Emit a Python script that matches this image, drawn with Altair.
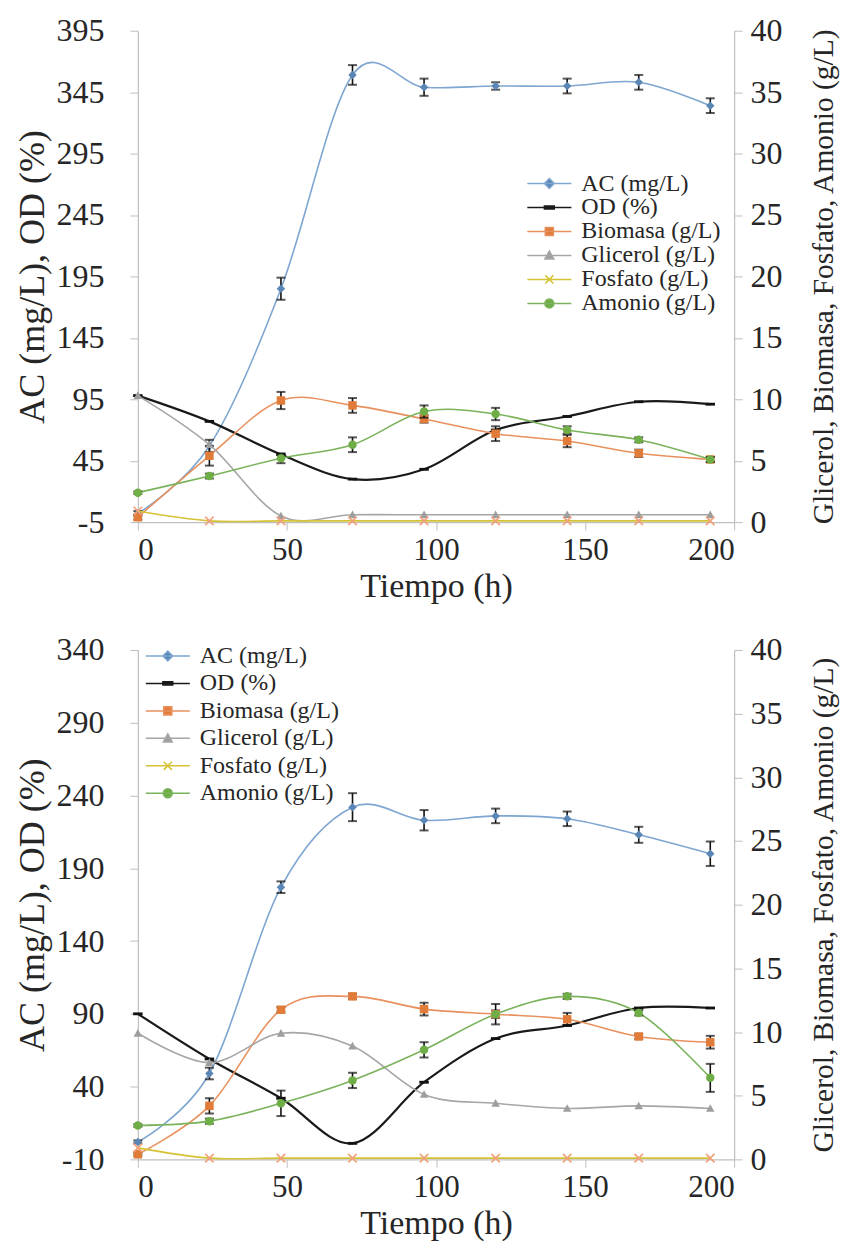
import altair as alt
import pandas as pd

# ---------------- data ----------------
T = [0, 24, 48, 72, 96, 120, 144, 168, 192]
SERIES = ["AC (mg/L)", "OD (%)", "Biomasa (g/L)", "Glicerol (g/L)", "Fosfato (g/L)", "Amonio (g/L)"]

# panel A (top)
AC_A = [2, 57, 185, 359, 349, 350, 350, 353, 334]
AC_A_ERR = [2, 5, 9, 8, 7, 3, 6, 6, 6]
OD_A = [98, 77, 50, 30, 38, 70, 81, 93, 91]
BIO_A = [0.4, 5.4, 9.9, 9.5, 8.4, 7.2, 6.6, 5.6, 5.1]
BIO_A_ERR = [0.2, 0.8, 0.7, 0.6, 0.3, 0.6, 0.5, 0.3, 0.2]
GLI_A = [10.3, 6.3, 0.5, 0.6, 0.6, 0.6, 0.6, 0.6, 0.6]
FOS_A = [0.9, 0.1, 0.1, 0.1, 0.1, 0.1, 0.1, 0.1, 0.1]
AMO_A = [2.4, 3.75, 5.2, 6.3, 9.0, 8.8, 7.5, 6.7, 5.1]
AMO_A_ERR = [0.1, 0.2, 0.4, 0.6, 0.5, 0.5, 0.3, 0.2, 0.2]

# panel B (bottom)
AC_B = [2, 49, 177, 232, 223, 226, 224, 213, 200]
AC_B_ERR = [1, 4, 4, 9.6, 7, 5, 5, 5.5, 8.4]
OD_B = [90, 59, 32, 1, 43, 73, 82, 94, 94]
BIO_B = [0.4, 4.2, 11.75, 12.8, 11.8, 11.4, 11.0, 9.65, 9.2]
BIO_B_ERR = [0.1, 0.6, 0.2, 0.2, 0.5, 0.3, 0.5, 0.2, 0.5]
GLI_B = [9.9, 7.6, 9.9, 8.9, 5.1, 4.4, 4.0, 4.2, 4.0]
FOS_B = [0.9, 0.1, 0.1, 0.1, 0.1, 0.1, 0.1, 0.1, 0.1]
AMO_B = [2.66, 3.0, 4.4, 6.2, 8.6, 11.4, 12.8, 11.5, 6.4]
AMO_B_ERR = [0.1, 0.2, 1.0, 0.6, 0.6, 0.8, 0.2, 0.2, 1.1]

X_TICKS = [0, 50, 100, 150, 200]
LEFT_A_TICKS = [-5, 45, 95, 145, 195, 245, 295, 345, 395]
LEFT_B_TICKS = [-10, 40, 90, 140, 190, 240, 290, 340]
RIGHT_TICKS = [0, 5, 10, 15, 20, 25, 30, 35, 40]

# ---------------- styles ----------------
FONT = "Liberation Serif, Times New Roman, serif"
LINE_COLORS = ["#7EA6D0", "#1A1A1A", "#E8915E", "#A6A6A6", "#D6C234", "#7BB35C"]
MARK_COLORS = ["#5A86B6", "#111111", "#E07B39", "#9E9E9E", "#F2A07A", "#6FAE47"]
DATA_SHAPES = [
    "diamond",
    "M-1,-0.3H1V0.3H-1Z",
    "square",
    "M0,-1L1,0.8H-1Z",
    "M-1,-1L1,1M-1,1L1,-1",
    "circle",
]
LEGEND_SHAPES = [
    "M-4.9,0H4.9M0,-1.1L1.1,0L0,1.1L-1.1,0Z",
    "M-4.9,0H4.9M-1.1,-0.35H1.1V0.35H-1.1Z",
    "M-4.9,0H4.9M-0.9,-0.9H0.9V0.9H-0.9Z",
    "M-4.9,0H4.9M0,-1L1,0.8H-1Z",
    "M-4.9,0H4.9M-0.9,-0.9L0.9,0.9M-0.9,0.9L0.9,-0.9",
    "M-4.9,0H4.9M1,0A1,1,0,1,1,-1,0A1,1,0,1,1,1,0Z",
]
AXIS_GRAY = "#BFBFBF"
TEXT = "#262626"


def xenc():
    return alt.X(
        "t:Q",
        scale=alt.Scale(domain=[0, 200], nice=False, zero=False),
        axis=alt.Axis(values=X_TICKS, title="Tiempo (h)", labelFontSize=31, labelFont=FONT,
                      titleFont=FONT, titleFontSize=34, tickSize=8, labelPadding=5,
                      titlePadding=4),
    )


def yenc(field, side, domain, ticks, title, tsize):
    ax = dict(values=ticks, orient=side, title=title, labelFontSize=32, labelFont=FONT,
              titleFont=FONT, titleFontSize=tsize, tickSize=8, labelExpr="datum.value")
    if side == "right":
        ax.update(titleAngle=270, titleBaseline="top", labelPadding=8, titlePadding=27)
    else:
        ax.update(labelPadding=26, titlePadding=4)
    return alt.Y(f"{field}:Q", scale=alt.Scale(domain=domain, nice=False, zero=False),
                 axis=alt.Axis(**ax))


def series_layers(vals, errs, idx, ymake):
    df = pd.DataFrame({"t": T, "v": vals})
    layers = [
        alt.Chart(df).mark_line(interpolate="cardinal", color=LINE_COLORS[idx],
                                strokeWidth=2.2 if idx == 1 else 1.6)
        .encode(x=xenc(), y=ymake("v"))
    ]
    if errs is not None:
        edf = pd.DataFrame({"t": T, "lo": [v - e for v, e in zip(vals, errs)],
                            "hi": [v + e for v, e in zip(vals, errs)]})
        layers.append(alt.Chart(edf).mark_rule(color="#111111", strokeWidth=1.6)
                      .encode(x=xenc(), y=ymake("lo"), y2="hi:Q"))
        for f in ["lo", "hi"]:
            layers.append(alt.Chart(edf).mark_tick(orient="horizontal", size=9, thickness=2,
                                                   color="#111111")
                          .encode(x=xenc(), y=ymake(f)))
    filled = idx != 4
    layers.append(
        alt.Chart(df).mark_point(shape=DATA_SHAPES[idx], size=72 if idx != 1 else 90,
                                 filled=filled, color=MARK_COLORS[idx], opacity=1,
                                 strokeWidth=1.6)
        .encode(x=xenc(), y=ymake("v"))
    )
    return layers


def panel(ac, ac_err, od, bio, bio_err, gli, fos, amo, amo_err, left_domain, left_ticks,
          height, lx, ly, rowpad):
    def yl(f):
        return yenc(f, "left", left_domain, left_ticks, "AC (mg/L), OD (%)", 36)

    def yr(f):
        return yenc(f, "right", [0, 40], RIGHT_TICKS,
                    "Glicerol, Biomasa, Fosfato, Amonio (g/L)", 29.5)

    left = series_layers(ac, ac_err, 0, yl) + series_layers(od, None, 1, yl)
    right = (series_layers(bio, bio_err, 2, yr) + series_layers(gli, None, 3, yr)
             + series_layers(fos, None, 4, yr) + series_layers(amo, amo_err, 5, yr))

    leg_df = pd.DataFrame({"s": SERIES, "t": [0] * 6, "v": [-999] * 6})
    leg = dict(orient="none", legendX=lx, legendY=ly, title=None, labelFont=FONT,
               labelFontSize=24, labelColor=TEXT, symbolSize=81, symbolStrokeWidth=1.5,
               symbolOffset=18, labelOffset=20, rowPadding=rowpad, padding=0)
    legend_layer = alt.Chart(leg_df).mark_point(clip=True, opacity=1, strokeWidth=1.5).encode(
        x=xenc(), y=yr("v"),
        fill=alt.Fill("s:N", scale=alt.Scale(domain=SERIES, range=MARK_COLORS),
                      legend=alt.Legend(**leg)),
        stroke=alt.Stroke("s:N", scale=alt.Scale(domain=SERIES, range=LINE_COLORS),
                          legend=alt.Legend(**leg)),
        shape=alt.Shape("s:N", scale=alt.Scale(domain=SERIES, range=LEGEND_SHAPES),
                        legend=alt.Legend(**leg)),
    )
    right.append(legend_layer)

    return (alt.layer(alt.layer(*left), alt.layer(*right))
            .resolve_scale(y="independent")
            .properties(width=597, height=height))


top = panel(AC_A, AC_A_ERR, OD_A, BIO_A, BIO_A_ERR, GLI_A, FOS_A, AMO_A, AMO_A_ERR,
            [-5, 395], LEFT_A_TICKS, 492, 382, 141, 0)
bottom = panel(AC_B, AC_B_ERR, OD_B, BIO_B, BIO_B_ERR, GLI_B, FOS_B, AMO_B, AMO_B_ERR,
               [-10, 340], LEFT_B_TICKS, 510, 0, -6, 3.5)

chart = (
    alt.vconcat(top, bottom, spacing=31)
    .resolve_scale(y="independent")
    .resolve_legend(fill="independent", stroke="independent", shape="independent")
    .properties(padding={"left": 7, "top": 6, "right": 5, "bottom": 5}, background="white")
    .configure_view(stroke=None)
    .configure_axis(labelFont=FONT, titleFont=FONT, labelColor=TEXT, titleColor=TEXT,
                    titleFontWeight="normal", domainColor=AXIS_GRAY, tickColor=AXIS_GRAY,
                    grid=False, domainWidth=1.2)
)

chart.save("out.html", embed_options={"renderer": "svg", "actions": False})
